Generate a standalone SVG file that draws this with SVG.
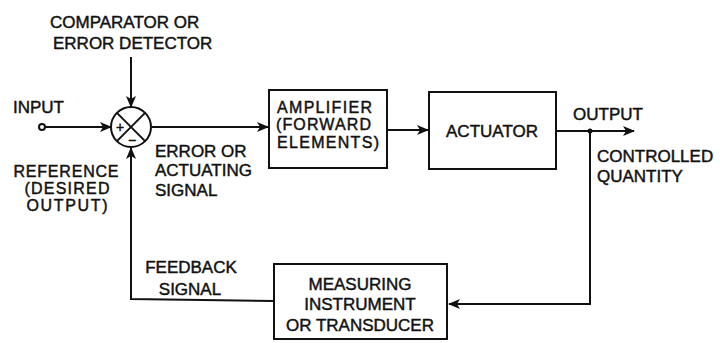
<svg xmlns="http://www.w3.org/2000/svg" width="720" height="343" viewBox="0 0 720 343">
<defs>
<style>
text{font-family:"Liberation Sans",Arial,sans-serif;font-size:17px;fill:#111;stroke:#111;stroke-width:0.45}
.ln{fill:none;stroke:#111;stroke-width:2}
.bx{fill:#fff;stroke:#111;stroke-width:2}
.sm{font-size:16px}
</style>
<marker id="ah" markerWidth="12" markerHeight="10" refX="11" refY="5" orient="auto" markerUnits="userSpaceOnUse">
<path d="M0,0 L12,5 L0,10 L3,5 Z" fill="#111"/>
</marker>
</defs>
<rect width="720" height="343" fill="#fff"/>
<g id="connectors">
<line class="ln" x1="45" y1="127" x2="111" y2="127" marker-end="url(#ah)"/>
<line class="ln" x1="131" y1="57" x2="131" y2="107" marker-end="url(#ah)"/>
<line class="ln" x1="152" y1="127" x2="268" y2="127" marker-end="url(#ah)"/>
<line class="ln" x1="387" y1="130" x2="428" y2="130" marker-end="url(#ah)"/>
<line class="ln" x1="556" y1="131" x2="634" y2="131" marker-end="url(#ah)"/>
<polyline class="ln" points="590,131 590,304 449,304" marker-end="url(#ah)"/>
<polyline class="ln" points="274,301 131,299 131,148" marker-end="url(#ah)"/>
<circle cx="590" cy="131" r="2.5" fill="#111"/>
</g>
<g id="input">
<circle cx="42" cy="127" r="3" fill="#fff" stroke="#111" stroke-width="2"/>
<text x="13" y="113">INPUT</text>
<text class="sm" x="66" y="177" text-anchor="middle" textLength="105">REFERENCE</text>
<text class="sm" x="67" y="194" text-anchor="middle" textLength="85">(DESIRED</text>
<text class="sm" x="67" y="211" text-anchor="middle" textLength="81">OUTPUT)</text>
</g>
<g id="comparator">
<circle cx="131" cy="127" r="20" fill="#fff" stroke="#111" stroke-width="2"/>
<line class="ln" x1="116.9" y1="112.9" x2="145.1" y2="141.1"/>
<line class="ln" x1="145.1" y1="112.9" x2="116.9" y2="141.1"/>
<text x="120" y="132" text-anchor="middle" style="font-size:14px">+</text>
<text x="132" y="145" text-anchor="middle" style="font-size:14px">−</text>
<text x="50" y="28">COMPARATOR OR</text>
<text x="53" y="49">ERROR DETECTOR</text>
</g>
<g id="error-label">
<text x="155" y="157">ERROR OR</text>
<text x="155" y="176">ACTUATING</text>
<text x="155" y="196">SIGNAL</text>
</g>
<g id="amplifier">
<rect class="bx" x="269" y="90" width="118" height="78"/>
<text class="sm" x="277" y="113" textLength="95">AMPLIFIER</text>
<text class="sm" x="276" y="130" textLength="95">(FORWARD</text>
<text class="sm" x="277" y="148" textLength="102">ELEMENTS)</text>
</g>
<g id="actuator">
<rect class="bx" x="429" y="92" width="127" height="77"/>
<text x="492" y="137" text-anchor="middle">ACTUATOR</text>
</g>
<g id="output">
<text x="573" y="120">OUTPUT</text>
<text x="597" y="162">CONTROLLED</text>
<text x="597" y="182">QUANTITY</text>
</g>
<g id="measuring">
<rect class="bx" x="274" y="264" width="173" height="75"/>
<text x="360" y="290" text-anchor="middle">MEASURING</text>
<text x="360" y="310" text-anchor="middle">INSTRUMENT</text>
<text x="360" y="331" text-anchor="middle">OR TRANSDUCER</text>
</g>
<g id="feedback">
<text x="191" y="273" text-anchor="middle">FEEDBACK</text>
<text x="190" y="295" text-anchor="middle">SIGNAL</text>
</g>
</svg>
